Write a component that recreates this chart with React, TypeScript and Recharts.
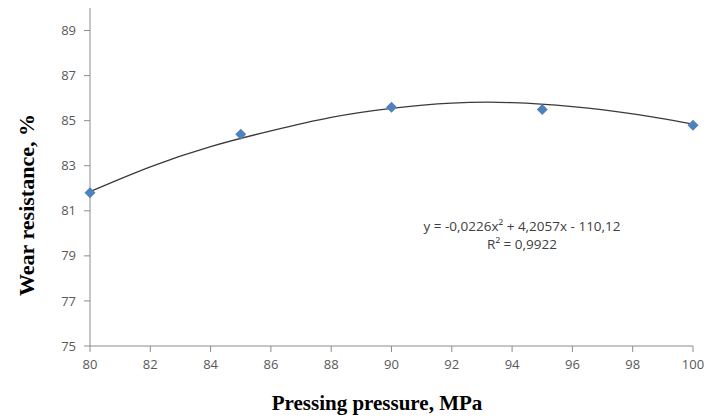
import { ComposedChart, Line, Scatter, XAxis, YAxis, Label } from 'recharts'

// measured points
const pressure = [80, 85, 90, 95, 100]
const wear = [81.8, 84.4, 85.6, 85.5, 84.8]

// polynomial trend line
const trendX = [80, 82, 84, 86, 88, 90, 92, 94, 96, 98, 100]
const trendY = [81.85, 82.95, 83.85, 84.55, 85.15, 85.55, 85.78, 85.8, 85.62, 85.3, 84.85]

const xTicks = [80, 82, 84, 86, 88, 90, 92, 94, 96, 98, 100]
const yTicks = [75, 77, 79, 81, 83, 85, 87, 89]

const points = pressure.map((x, i) => ({ x, y: wear[i] }))
const trend = trendX.map((x, i) => ({ x, t: trendY[i] }))

const axisColor = '#8c8c8c'
const tickStyle = { fill: '#595959', fontSize: 13, fontFamily: 'Open Sans, sans-serif' }
const titleStyle = { fill: '#000', fontSize: 21, fontWeight: 'bold', fontFamily: 'Liberation Serif, serif' }

const Diamond = (props: any) => {
  const { cx, cy } = props
  const r = 5.5
  return (
    <polygon
      points={`${cx},${cy - r} ${cx + r},${cy} ${cx},${cy + r} ${cx - r},${cy}`}
      fill="#4f81bd"
    />
  )
}

const YTitle = () => (
  <text
    x={26}
    y={205}
    transform="rotate(-90, 26, 205)"
    textAnchor="middle"
    dominantBaseline="central"
    style={{ ...titleStyle, fontSize: 22 }}
  >
    Wear resistance, %
  </text>
)

const XTitle = () => (
  <text x={377} y={403} textAnchor="middle" dominantBaseline="central" style={titleStyle}>
    Pressing pressure, MPa
  </text>
)

export default function App() {
  return (
    <div style={{ position: 'absolute', left: 0, top: 0, width: 707, height: 419 }}>
      <ComposedChart width={707} height={419} data={trend} margin={{ top: 8, right: 14, left: 0, bottom: 0 }}>
        <XAxis
          dataKey="x"
          type="number"
          domain={[80, 100]}
          ticks={xTicks}
          interval={0}
          height={73}
          stroke={axisColor}
          tick={tickStyle}
          tickSize={6}
          tickMargin={8}
        >
          <Label content={<XTitle />} />
        </XAxis>
        <YAxis
          type="number"
          domain={[75, 90]}
          ticks={yTicks}
          interval={0}
          width={90}
          stroke={axisColor}
          tick={tickStyle}
          tickSize={6}
          tickMargin={8}
        >
          <Label content={<YTitle />} />
        </YAxis>
        <Line
          dataKey="t"
          type="natural"
          stroke="#3a3a3a"
          strokeWidth={1.3}
          dot={false}
          isAnimationActive={false}
        />
        <Scatter data={points} dataKey="y" shape={<Diamond />} isAnimationActive={false} />
      </ComposedChart>
      <div
        style={{
          position: 'absolute',
          left: 392,
          top: 217,
          width: 260,
          textAlign: 'center',
          fontFamily: 'Open Sans, sans-serif',
          fontSize: 13.5,
          lineHeight: '18px',
          color: '#404040',
        }}
      >
        <div>y = -0,0226x² + 4,2057x - 110,12</div>
        <div>R² = 0,9922</div>
      </div>
    </div>
  )
}
